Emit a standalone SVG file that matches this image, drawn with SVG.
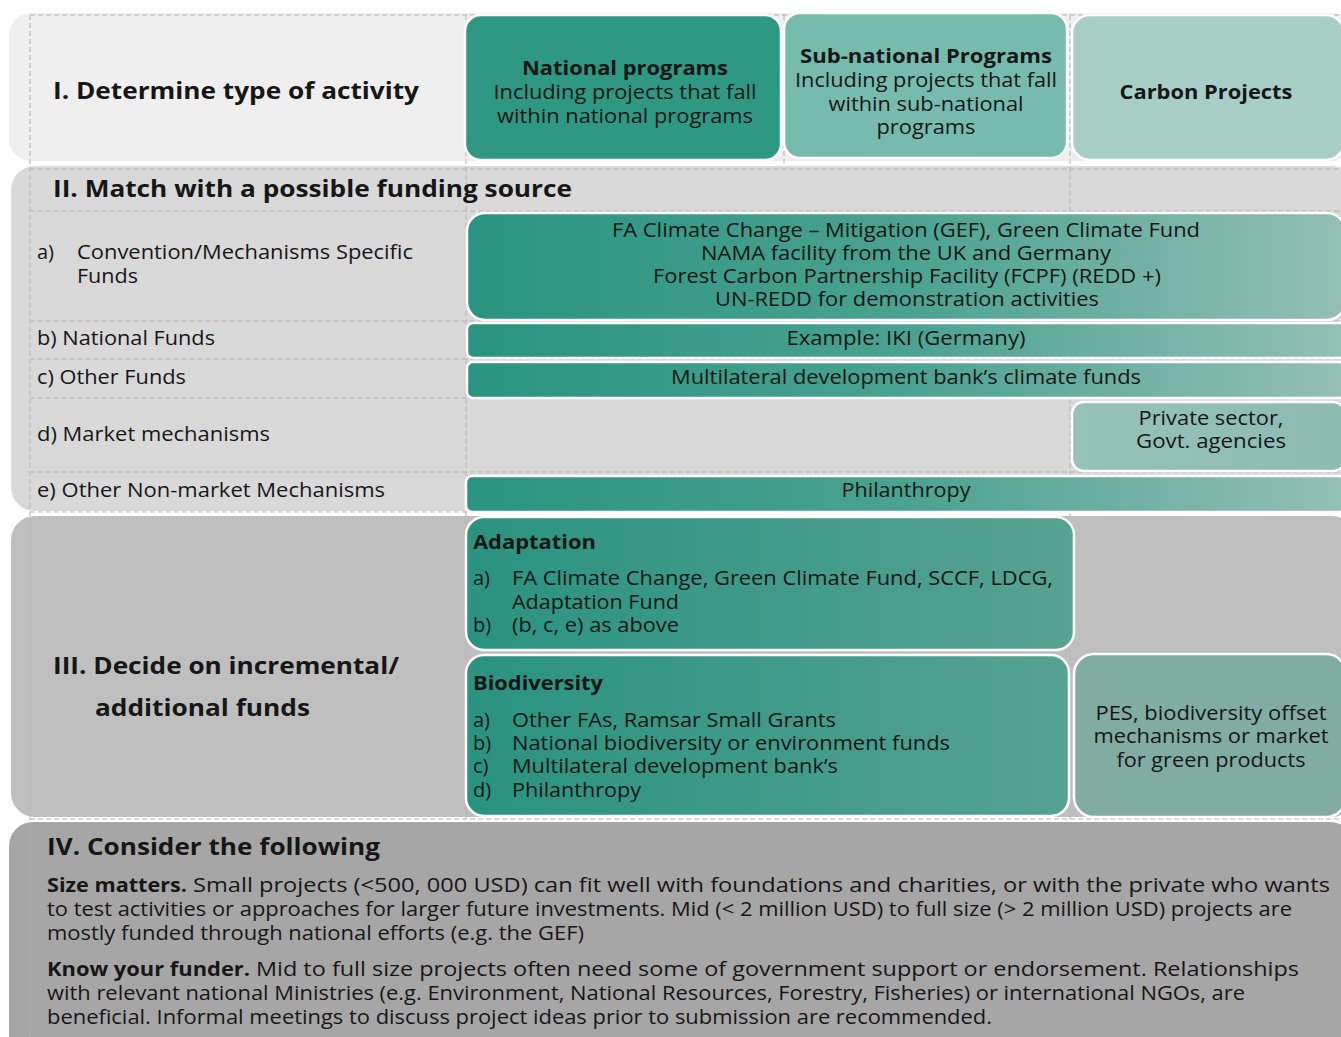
<svg xmlns="http://www.w3.org/2000/svg" width="1341" height="1037" viewBox="0 0 1341 1037">
  <style>
    text { font-family: "Open Sans", "Liberation Sans", sans-serif; fill: #161616; }
    .h { font-weight: 700; font-size: 24px; }
    .hb { font-weight: 700; font-size: 20px; }
    .t { font-size: 20px; }
    .c { text-anchor: middle; }
    .box { stroke: #ffffff; stroke-width: 2.5; }
    .grid { stroke: #b3b3b3; stroke-width: 1; stroke-dasharray: 5 3; fill: none; }
  </style>
  <defs>
    <linearGradient id="gFull" x1="467" y1="0" x2="1341" y2="0" gradientUnits="userSpaceOnUse">
      <stop offset="0" stop-color="#29947f"/>
      <stop offset="0.5" stop-color="#4aa290"/>
      <stop offset="1" stop-color="#94bfb5"/>
    </linearGradient>
    <linearGradient id="gMid" x1="466" y1="0" x2="1074" y2="0" gradientUnits="userSpaceOnUse">
      <stop offset="0" stop-color="#29937f"/>
      <stop offset="1" stop-color="#57a293"/>
    </linearGradient>
    <linearGradient id="gPriv" x1="1072" y1="0" x2="1341" y2="0" gradientUnits="userSpaceOnUse">
      <stop offset="0" stop-color="#96c3b9"/>
      <stop offset="1" stop-color="#8dbbb1"/>
    </linearGradient>
  </defs>

  <rect width="1341" height="1037" fill="#ffffff"/>

  <!-- stage bands -->
  <g id="band-1"><rect x="9" y="13" width="1345" height="148" rx="22" fill="#efefef"/></g>
  <g id="band-2"><rect x="11" y="166" width="1345" height="345" rx="24" fill="#d9d9d9"/></g>
  <g id="band-3"><rect x="11" y="516" width="1345" height="301" rx="24" fill="#bfbfbf"/></g>
  <g id="band-4"><rect x="9" y="822" width="1345" height="240" rx="24" fill="#a6a6a6"/></g>

  <!-- dashed table grid -->
  <g id="grid">
    <line class="grid" x1="30" y1="15" x2="1341" y2="15"/>
    <line class="grid" x1="30" y1="169" x2="1341" y2="169"/>
    <line class="grid" x1="30" y1="211" x2="1341" y2="211"/>
    <line class="grid" x1="30" y1="321" x2="1341" y2="321"/>
    <line class="grid" x1="30" y1="359" x2="1341" y2="359"/>
    <line class="grid" x1="30" y1="398" x2="1341" y2="398"/>
    <line class="grid" x1="30" y1="472" x2="1341" y2="472"/>
    <line class="grid" x1="30" y1="512" x2="1341" y2="512"/>
    <line class="grid" x1="30" y1="819" x2="1341" y2="819"/>
    <line class="grid" x1="30" y1="15" x2="30" y2="1037"/>
    <line class="grid" x1="466" y1="15" x2="466" y2="819"/>
    <line class="grid" x1="784" y1="15" x2="784" y2="166"/>
    <line class="grid" x1="1070" y1="15" x2="1070" y2="819"/>
  </g>

  <!-- I. activity type -->
  <g id="stage-1">
    <text class="h" x="53" y="99" textLength="366" lengthAdjust="spacingAndGlyphs">I. Determine type of activity</text>
  </g>
  <g id="national-programs">
    <rect class="box" x="465" y="15" width="316" height="145" rx="16" fill="#2e9883"/>
    <text class="hb c" x="625" y="75" textLength="206" lengthAdjust="spacingAndGlyphs">National programs</text>
    <text class="t c" x="625" y="99" textLength="263" lengthAdjust="spacingAndGlyphs">Including projects that fall</text>
    <text class="t c" x="625" y="123" textLength="256" lengthAdjust="spacingAndGlyphs">within national programs</text>
  </g>
  <g id="subnational-programs">
    <rect class="box" x="784" y="13" width="283" height="145" rx="16" fill="#77bbae"/>
    <text class="hb c" x="926" y="63" textLength="252" lengthAdjust="spacingAndGlyphs">Sub-national Programs</text>
    <text class="t c" x="926" y="87" textLength="262" lengthAdjust="spacingAndGlyphs">Including projects that fall</text>
    <text class="t c" x="926" y="111" textLength="195" lengthAdjust="spacingAndGlyphs">within sub-national</text>
    <text class="t c" x="926" y="134" textLength="99" lengthAdjust="spacingAndGlyphs">programs</text>
  </g>
  <g id="carbon-projects">
    <rect class="box" x="1072" y="15" width="272" height="145" rx="18" fill="#a8cfc6"/>
    <text class="hb c" x="1206" y="99" textLength="173" lengthAdjust="spacingAndGlyphs">Carbon Projects</text>
  </g>

  <!-- II. funding sources -->
  <g id="stage-2">
    <text class="h" x="53" y="197" textLength="519" lengthAdjust="spacingAndGlyphs">II. Match with a possible funding source</text>
    <text class="t" x="37" y="259">a)</text>
    <text class="t" x="77" y="259" textLength="336" lengthAdjust="spacingAndGlyphs">Convention/Mechanisms Specific</text>
    <text class="t" x="77" y="283" textLength="61" lengthAdjust="spacingAndGlyphs">Funds</text>
    <text class="t" x="37" y="345" textLength="178" lengthAdjust="spacingAndGlyphs">b) National Funds</text>
    <text class="t" x="37" y="384" textLength="149" lengthAdjust="spacingAndGlyphs">c) Other Funds</text>
    <text class="t" x="37" y="441" textLength="233" lengthAdjust="spacingAndGlyphs">d) Market mechanisms</text>
    <text class="t" x="37" y="497" textLength="348" lengthAdjust="spacingAndGlyphs">e) Other Non-market Mechanisms</text>
  </g>
  <g id="convention-funds">
    <rect class="box" x="467" y="213" width="878" height="107" rx="18" fill="url(#gFull)"/>
    <text class="t c" x="906" y="237" textLength="588" lengthAdjust="spacingAndGlyphs">FA Climate Change – Mitigation (GEF), Green Climate Fund</text>
    <text class="t c" x="906" y="260" textLength="410" lengthAdjust="spacingAndGlyphs">NAMA facility from the UK and Germany</text>
    <text class="t c" x="907" y="283" textLength="508" lengthAdjust="spacingAndGlyphs">Forest Carbon Partnership Facility (FCPF) (REDD +)</text>
    <text class="t c" x="907" y="306" textLength="384" lengthAdjust="spacingAndGlyphs">UN-REDD for demonstration activities</text>
  </g>
  <g id="national-funds">
    <rect class="box" x="467" y="323" width="878" height="35" rx="6" fill="url(#gFull)"/>
    <text class="t c" x="906" y="345" textLength="239" lengthAdjust="spacingAndGlyphs">Example: IKI (Germany)</text>
  </g>
  <g id="other-funds">
    <rect class="box" x="467" y="362" width="878" height="36" rx="6" fill="url(#gFull)"/>
    <text class="t c" x="906" y="384" textLength="470" lengthAdjust="spacingAndGlyphs">Multilateral development bank’s climate funds</text>
  </g>
  <g id="market-mechanisms">
    <rect class="box" x="1072" y="402" width="273" height="69" rx="12" fill="url(#gPriv)"/>
    <text class="t c" x="1211" y="425" textLength="145" lengthAdjust="spacingAndGlyphs">Private sector,</text>
    <text class="t c" x="1211" y="448" textLength="150" lengthAdjust="spacingAndGlyphs">Govt. agencies</text>
  </g>
  <g id="non-market">
    <rect class="box" x="466" y="476" width="879" height="36" rx="6" fill="url(#gFull)"/>
    <text class="t c" x="906" y="497" textLength="129" lengthAdjust="spacingAndGlyphs">Philanthropy</text>
  </g>

  <!-- III. incremental funds -->
  <g id="stage-3">
    <text class="h" x="53" y="674" textLength="346" lengthAdjust="spacingAndGlyphs">III. Decide on incremental/</text>
    <text class="h" x="95" y="716" textLength="215" lengthAdjust="spacingAndGlyphs">additional funds</text>
  </g>
  <g id="adaptation">
    <rect class="box" x="466" y="517" width="608" height="133" rx="18" fill="url(#gMid)"/>
    <text class="hb" x="473" y="549" textLength="123" lengthAdjust="spacingAndGlyphs">Adaptation</text>
    <text class="t" x="473" y="585">a)</text>
    <text class="t" x="512" y="585" textLength="541" lengthAdjust="spacingAndGlyphs">FA Climate Change, Green Climate Fund, SCCF, LDCG,</text>
    <text class="t" x="512" y="609" textLength="167" lengthAdjust="spacingAndGlyphs">Adaptation Fund</text>
    <text class="t" x="473" y="632">b)</text>
    <text class="t" x="512" y="632" textLength="167" lengthAdjust="spacingAndGlyphs">(b, c, e) as above</text>
  </g>
  <g id="biodiversity">
    <rect class="box" x="466" y="655" width="603" height="161" rx="18" fill="url(#gMid)"/>
    <text class="hb" x="473" y="690" textLength="130" lengthAdjust="spacingAndGlyphs">Biodiversity</text>
    <text class="t" x="473" y="727">a)</text>
    <text class="t" x="512" y="727" textLength="324" lengthAdjust="spacingAndGlyphs">Other FAs, Ramsar Small Grants</text>
    <text class="t" x="473" y="750">b)</text>
    <text class="t" x="512" y="750" textLength="438" lengthAdjust="spacingAndGlyphs">National biodiversity or environment funds</text>
    <text class="t" x="473" y="773">c)</text>
    <text class="t" x="512" y="773" textLength="326" lengthAdjust="spacingAndGlyphs">Multilateral development bank’s</text>
    <text class="t" x="473" y="797">d)</text>
    <text class="t" x="512" y="797" textLength="129" lengthAdjust="spacingAndGlyphs">Philanthropy</text>
  </g>
  <g id="pes">
    <rect class="box" x="1074" y="654" width="272" height="163" rx="20" fill="#80aca2"/>
    <text class="t c" x="1211" y="720" textLength="231" lengthAdjust="spacingAndGlyphs">PES, biodiversity offset</text>
    <text class="t c" x="1211" y="743" textLength="235" lengthAdjust="spacingAndGlyphs">mechanisms or market</text>
    <text class="t c" x="1211" y="767" textLength="189" lengthAdjust="spacingAndGlyphs">for green products</text>
  </g>

  <!-- IV. considerations -->
  <g id="stage-4">
    <text class="h" x="47" y="855" textLength="333" lengthAdjust="spacingAndGlyphs">IV. Consider the following</text>
    <text class="t" x="47" y="892"><tspan font-weight="700" textLength="140" lengthAdjust="spacingAndGlyphs">Size matters.</tspan><tspan x="193" textLength="1137" lengthAdjust="spacingAndGlyphs">Small projects (&lt;500, 000 USD) can fit well with foundations and charities, or with the private who wants</tspan></text>
    <text class="t" x="47" y="916" textLength="1245" lengthAdjust="spacingAndGlyphs">to test activities or approaches for larger future investments. Mid (&lt; 2 million USD) to full size (&gt; 2 million USD) projects are</text>
    <text class="t" x="47" y="940" textLength="537" lengthAdjust="spacingAndGlyphs">mostly funded through national efforts (e.g. the GEF)</text>
    <text class="t" x="47" y="976"><tspan font-weight="700" textLength="203" lengthAdjust="spacingAndGlyphs">Know your funder.</tspan><tspan x="256" textLength="1043" lengthAdjust="spacingAndGlyphs">Mid to full size projects often need some of government support or endorsement. Relationships</tspan></text>
    <text class="t" x="47" y="1000" textLength="1198" lengthAdjust="spacingAndGlyphs">with relevant national Ministries (e.g. Environment, National Resources, Forestry, Fisheries) or international NGOs, are</text>
    <text class="t" x="47" y="1024" textLength="945" lengthAdjust="spacingAndGlyphs">beneficial. Informal meetings to discuss project ideas prior to submission are recommended.</text>
  </g>
</svg>
